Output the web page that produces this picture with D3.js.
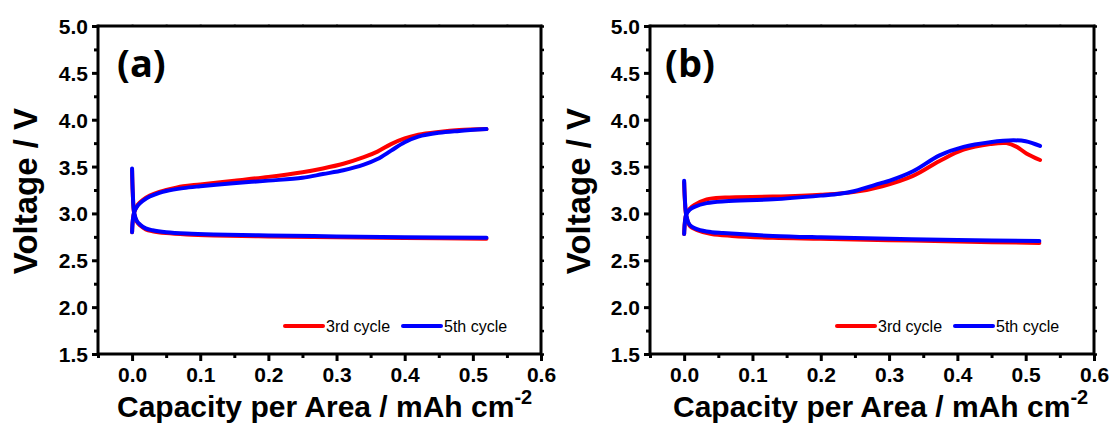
<!DOCTYPE html>
<html>
<head>
<meta charset="utf-8">
<script src="https://cdn.jsdelivr.net/npm/d3@7"></script>
<style>
  body { margin: 0; background: #fff; }
  text { font-family: "Liberation Sans", Arial, sans-serif; }
</style>
</head>
<body>
<script>
// ---- data: [capacity (mAh cm-2), voltage (V)] ----
// panel (a)
let a3Charge = [[0,2.80],[0.001,2.92],[0.003,3.01],[0.008,3.09],[0.015,3.14],[0.026,3.19],[0.04,3.23],[0.05,3.25],[0.075,3.29],[0.1,3.31],[0.15,3.35],[0.2,3.39],[0.25,3.44],[0.28,3.48],[0.31,3.53],[0.34,3.60],[0.36,3.66],[0.38,3.74],[0.40,3.80],[0.42,3.84],[0.45,3.87],[0.48,3.89],[0.52,3.90]];
let a3Discharge = [[0,3.46],[0.001,3.22],[0.003,3.00],[0.007,2.91],[0.012,2.87],[0.02,2.83],[0.03,2.81],[0.05,2.79],[0.08,2.775],[0.12,2.765],[0.2,2.755],[0.3,2.745],[0.4,2.737],[0.52,2.73]];
let a5Charge = [[0,2.80],[0.001,2.92],[0.003,3.01],[0.008,3.08],[0.015,3.13],[0.026,3.18],[0.04,3.22],[0.05,3.24],[0.075,3.27],[0.1,3.29],[0.144,3.32],[0.2,3.35],[0.25,3.38],[0.28,3.42],[0.31,3.46],[0.34,3.52],[0.36,3.58],[0.38,3.67],[0.40,3.76],[0.42,3.82],[0.45,3.86],[0.48,3.88],[0.52,3.90]];
let a5Discharge = [[0,3.48],[0.001,3.23],[0.003,3.01],[0.007,2.92],[0.012,2.88],[0.02,2.84],[0.03,2.82],[0.05,2.80],[0.08,2.785],[0.12,2.775],[0.2,2.765],[0.3,2.755],[0.4,2.747],[0.52,2.74]];
// panel (b)
let b3Charge = [[0,2.78],[0.001,2.90],[0.003,2.99],[0.008,3.05],[0.015,3.09],[0.033,3.15],[0.06,3.17],[0.13,3.18],[0.2,3.20],[0.25,3.23],[0.29,3.29],[0.335,3.40],[0.374,3.56],[0.409,3.68],[0.448,3.74],[0.472,3.75],[0.487,3.71],[0.501,3.64],[0.521,3.57]];
let b3Discharge = [[0,3.33],[0.001,3.15],[0.003,2.98],[0.008,2.87],[0.02,2.82],[0.04,2.78],[0.07,2.76],[0.13,2.74],[0.2,2.73],[0.3,2.715],[0.4,2.70],[0.52,2.685]];
let b5Charge = [[0,2.78],[0.001,2.90],[0.003,2.99],[0.008,3.04],[0.015,3.07],[0.033,3.11],[0.06,3.13],[0.13,3.15],[0.2,3.19],[0.228,3.21],[0.25,3.24],[0.287,3.32],[0.301,3.35],[0.335,3.45],[0.374,3.62],[0.409,3.71],[0.448,3.76],[0.482,3.78],[0.5,3.77],[0.521,3.72]];
let b5Discharge = [[0,3.35],[0.001,3.16],[0.003,2.99],[0.008,2.88],[0.02,2.83],[0.04,2.80],[0.057,2.79],[0.13,2.76],[0.2,2.745],[0.3,2.73],[0.4,2.717],[0.52,2.705]];

let seriesNames = ["3rd cycle", "5th cycle"];
let seriesColors = ["#ff0000", "#0000ff"];
let panelLabels = ["(a)", "(b)"];
let xTicks = [0.0, 0.1, 0.2, 0.3, 0.4, 0.5, 0.6];
let yTicks = [1.5, 2.0, 2.5, 3.0, 3.5, 4.0, 4.5, 5.0];

let panels = [
  { left: 98, right: 541, label: panelLabels[0], labelX: 117, titleX: 117, yTitleX: 37, legendX: 285,
    series: [[a3Charge, a3Discharge], [a5Charge, a5Discharge]] },
  { left: 650, right: 1094, label: panelLabels[1], labelX: 665, titleX: 673, yTitleX: 590, legendX: 837,
    series: [[b3Charge, b3Discharge], [b5Charge, b5Discharge]] }
];

let plotTop = 26, plotBottom = 354;

let svg = d3.select('body')
  .append('svg')
  .attr("width", 1117)
  .attr("height", 427);

panels.forEach(drawPanel);

function drawPanel(p) {
  let x = d3.scaleLinear().domain([-0.05, 0.6]).range([p.left, p.right]);
  let y = d3.scaleLinear().domain([1.5, 5.0]).range([plotBottom, plotTop]);

  let xMinor = d3.range(-0.05, 0.601, 0.1);
  let yMinor = d3.range(1.75, 5.0, 0.5);
  let yAll = d3.range(1.5, 5.01, 0.25);

  let g = svg.append('g');

  // minor ticks (bottom, left)
  g.append('g')
    .attr('transform', `translate(0,${plotBottom})`)
    .call(d3.axisBottom(x).tickValues(xMinor).tickSize(4).tickFormat(''))
    .call(s => s.select('.domain').remove())
    .selectAll('line').attr('stroke-width', 3);
  g.append('g')
    .attr('transform', `translate(${p.left},0)`)
    .call(d3.axisLeft(y).tickValues(yMinor).tickSize(4).tickFormat(''))
    .call(s => s.select('.domain').remove())
    .selectAll('line').attr('stroke-width', 3);

  // top/right faint ticks
  g.append('g')
    .attr('transform', `translate(0,${plotTop})`)
    .call(d3.axisTop(x).tickValues(d3.range(-0.05, 0.601, 0.05)).tickSize(2).tickFormat(''))
    .call(s => s.select('.domain').remove())
    .selectAll('line').attr('stroke', '#aaa').attr('stroke-width', 2);
  g.append('g')
    .attr('transform', `translate(${p.right},0)`)
    .call(d3.axisRight(y).tickValues(yAll).tickSize(3).tickFormat(''))
    .call(s => s.select('.domain').remove())
    .selectAll('line').attr('stroke-width', 2.5);

  // major ticks + labels
  let xAxis = g.append('g')
    .attr('transform', `translate(0,${plotBottom})`)
    .call(d3.axisBottom(x).tickValues(xTicks).tickSize(7).tickPadding(6).tickFormat(d3.format('.1f')));
  xAxis.select('.domain').remove();
  xAxis.selectAll('line').attr('stroke-width', 3);
  xAxis.selectAll('text')
    .style('font-size', '21px').style('font-weight', 'bold').attr('fill', '#000');

  let yAxis = g.append('g')
    .attr('transform', `translate(${p.left},0)`)
    .call(d3.axisLeft(y).tickValues(yTicks).tickSize(6).tickPadding(4).tickFormat(d3.format('.1f')));
  yAxis.select('.domain').remove();
  yAxis.selectAll('line').attr('stroke-width', 3);
  yAxis.selectAll('text')
    .style('font-size', '21px').style('font-weight', 'bold').attr('fill', '#000')
    .attr('dy', '0.36em');

  // frame
  g.append('rect')
    .attr('x', p.left).attr('y', plotTop)
    .attr('width', p.right - p.left).attr('height', plotBottom - plotTop)
    .attr('fill', 'none').attr('stroke', '#000').attr('stroke-width', 3);

  // curves
  let line = d3.line()
    .x(d => x(d[0]))
    .y(d => y(d[1]))
    .curve(d3.curveCatmullRom.alpha(0.5));

  p.series.forEach((pair, i) => {
    pair.forEach(curve => {
      g.append('path')
        .attr('d', line(curve))
        .attr('fill', 'none')
        .attr('stroke', seriesColors[i])
        .attr('stroke-width', 4)
        .attr('stroke-linecap', 'round')
        .attr('stroke-linejoin', 'round');
    });
  });

  // panel label
  g.append('text')
    .attr('x', p.labelX).attr('y', 77)
    .style('font-family', '"Open Sans", "Noto Sans", sans-serif')
    .style('font-size', '38px').style('font-weight', 'bold')
    .text(p.label);

  // legend
  seriesNames.forEach((name, i) => {
    let lx = p.legendX + i * 118;
    g.append('line')
      .attr('x1', lx).attr('x2', lx + 38)
      .attr('y1', 326).attr('y2', 326)
      .attr('stroke', seriesColors[i]).attr('stroke-width', 4).attr('stroke-linecap', 'round');
    g.append('text')
      .attr('x', lx + 41).attr('y', 332)
      .style('font-size', '16px')
      .text(name);
  });

  // axis titles
  let xt = g.append('text')
    .attr('x', p.titleX).attr('y', 417)
    .style('font-size', '30px').style('font-weight', 'bold');
  xt.append('tspan').text('Capacity per Area / mAh cm');
  xt.append('tspan').attr('dy', -13).style('font-size', '20px').text('-2');

  g.append('text')
    .attr('transform', `translate(${p.yTitleX},${(plotTop + plotBottom) / 2 + 1}) rotate(-90)`)
    .attr('text-anchor', 'middle')
    .style('font-size', '33px').style('font-weight', 'bold')
    .text('Voltage / V');
}
</script>
</body>
</html>
